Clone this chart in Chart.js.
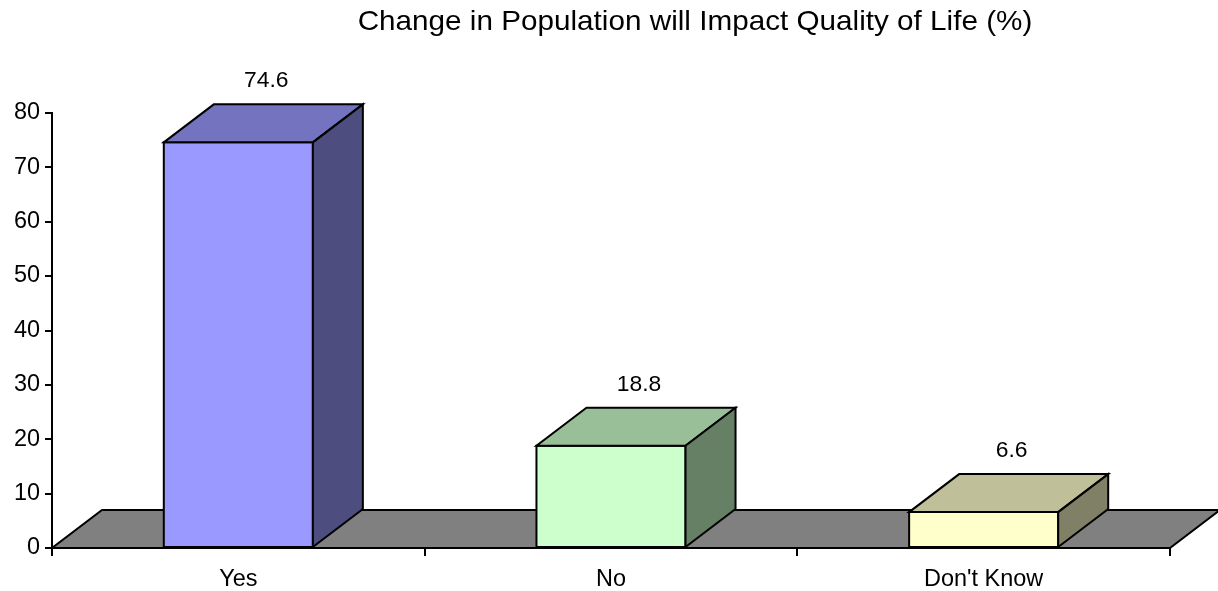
<!DOCTYPE html>
<html><head><meta charset="utf-8">
<script src="https://cdn.jsdelivr.net/npm/chart.js@4"></script>
<style>html,body{margin:0;padding:0;background:#fff;}#wrap{width:1218px;height:591px;position:relative;}</style>
</head><body><div id="wrap"><canvas id="c" width="1218" height="591"></canvas></div>
<script>
const categories = ["Yes", "No", "Don't Know"];
const values = [74.6, 18.8, 6.6];
const frontColors = ["#9999FF", "#CCFFCC", "#FFFFCC"];
const topColors = ["#7373BF", "#99BF99", "#BFBF99"];
const sideColors = ["#4D4D80", "#668066", "#808066"];
const yTicks = [0, 10, 20, 30, 40, 50, 60, 70, 80];
const titleText = "Change in Population will Impact Quality of Life (%)";
const FONT = "'Liberation Sans', Arial, sans-serif";
const DX = 50, DY = -38;

function poly(ctx, pts, fill) {
  ctx.beginPath();
  ctx.moveTo(pts[0][0], pts[0][1]);
  for (let i = 1; i < pts.length; i++) ctx.lineTo(pts[i][0], pts[i][1]);
  ctx.closePath();
  ctx.fillStyle = fill; ctx.fill();
  ctx.stroke();
}

function sText(ctx, txt, x, y, size, sx, align) {
  ctx.save();
  ctx.font = size + 'px ' + FONT;
  ctx.fillStyle = '#000';
  ctx.textBaseline = 'middle';
  ctx.textAlign = align || 'center';
  ctx.translate(x, y);
  ctx.scale(sx, 1);
  ctx.fillText(txt, 0, 0);
  ctx.restore();
}

const bars3d = {
  id: 'bars3d',
  beforeDatasetsDraw(chart) {
    const ctx = chart.ctx;
    const base = chart.scales.y.getPixelForValue(0);
    const x0 = chart.scales.x.left, x1 = chart.scales.x.right;
    ctx.save();
    ctx.lineWidth = 2; ctx.strokeStyle = '#000'; ctx.lineJoin = 'miter';
    poly(ctx, [[x0, base], [x1, base], [x1 + DX, base + DY], [x0 + DX, base + DY]], '#808080');
    ctx.restore();
  },
  afterDatasetsDraw(chart) {
    const ctx = chart.ctx;
    const meta = chart.getDatasetMeta(0);
    ctx.save();
    ctx.lineWidth = 2; ctx.strokeStyle = '#000';
    meta.data.forEach((el, i) => {
      const l = el.x - el.width / 2, r = el.x + el.width / 2, t = el.y, b = el.base;
      poly(ctx, [[l, b], [r, b], [r, t], [l, t]], frontColors[i]);
      poly(ctx, [[l, t], [r, t], [r + DX, t + DY], [l + DX, t + DY]], topColors[i]);
      poly(ctx, [[r, b], [r + DX, b + DY], [r + DX, t + DY], [r, t]], sideColors[i]);
      sText(ctx, String(values[i]), el.x + 28, t + DY - 23, 22, 1.04, 'center');
    });
    ctx.restore();
    const ys = chart.scales.y, xs = chart.scales.x;
    yTicks.forEach(v => sText(ctx, String(v), ys.right - 12, ys.getPixelForValue(v), 23, 1.02, 'right'));
    categories.forEach((c, i) => sText(ctx, c, xs.getPixelForValue(i), 580, 23, 1.02, 'center'));
    sText(ctx, titleText, 695, 22, 28, 1.06, 'center');
  }
};

new Chart(document.getElementById('c'), {
  type: 'bar',
  data: {
    labels: categories,
    datasets: [{ data: values, backgroundColor: 'rgba(0,0,0,0)', borderWidth: 0,
      categoryPercentage: 1.0, barPercentage: 0.4 }]
  },
  options: {
    responsive: false, animation: false,
    layout: { padding: { top: 113, right: 48, left: 0, bottom: 0 } },
    plugins: { legend: { display: false }, tooltip: { enabled: false }, title: { display: false } },
    scales: {
      x: {
        offset: true,
        grid: { display: true, offset: true, drawOnChartArea: false, color: '#000', lineWidth: 2, tickLength: 8 },
        border: { display: true, color: '#000', width: 2 },
        ticks: { display: false },
        afterFit(s) { s.height = 43; }
      },
      y: {
        min: 0, max: 80,
        afterBuildTicks(s) { s.ticks = yTicks.map(v => ({ value: v })); },
        grid: { display: true, drawOnChartArea: false, color: '#000', lineWidth: 2, tickLength: 7 },
        border: { display: true, color: '#000', width: 2 },
        ticks: { display: false },
        afterFit(s) { s.width = 52; }
      }
    }
  },
  plugins: [bars3d]
});
</script></body></html>
